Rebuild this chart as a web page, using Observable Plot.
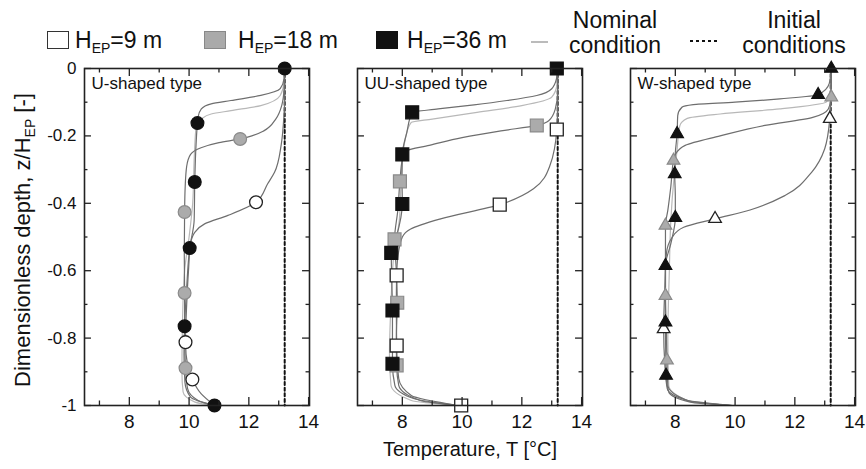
<!DOCTYPE html>
<html><head><meta charset="utf-8">
<script src="https://cdn.jsdelivr.net/npm/d3@7"></script>
<script src="https://cdn.jsdelivr.net/npm/@observablehq/plot@0.6"></script>
<style>
body{margin:0;background:#fff;font-family:"Liberation Sans",Arial,sans-serif;color:#111;}
#wrap{position:relative;width:866px;height:469px;overflow:hidden;}
#chart{position:absolute;left:0;top:0;}
.lg{position:absolute;font-size:23px;line-height:1;white-space:nowrap;color:#111;}
.sub{font-size:14px;position:relative;top:5px;}
.sw{position:absolute;width:22px;height:18px;box-sizing:border-box;border:1.3px solid #333;}
</style>
</head><body>
<div id="wrap">
  <div id="chart"></div>
  <div class="sw" style="left:47px;top:31px;background:#fff;"></div>
  <div class="lg" style="left:75px;top:29px;">H<span class="sub">EP</span>=9 m</div>
  <div class="sw" style="left:204px;top:31px;background:#aaa;border-color:#888;"></div>
  <div class="lg" style="left:238px;top:29px;">H<span class="sub">EP</span>=18 m</div>
  <div class="sw" style="left:376px;top:31px;background:#111;border-color:#111;"></div>
  <div class="lg" style="left:407px;top:29px;">H<span class="sub">EP</span>=36 m</div>
  <div style="position:absolute;left:531px;top:41px;width:17px;height:2px;background:#bbb;"></div>
  <div class="lg" style="left:564px;top:8px;width:102px;text-align:center;line-height:25px;">Nominal<br>condition</div>
  <div style="position:absolute;left:690px;top:40px;width:30px;height:2px;background:repeating-linear-gradient(to right,#111 0 3px,transparent 3px 6px);"></div>
  <div class="lg" style="left:728px;top:8px;width:132px;text-align:center;line-height:25px;">Initial<br>conditions</div>
  <div class="lg" style="left:23px;top:240px;font-size:22px;transform:translate(-50%,-50%) rotate(-90deg);">Dimensionless depth, z/H<span class="sub">EP</span> [-]</div>
</div>
<script>
// ---------- data ----------
const panelTypes = ["U-shaped type", "UU-shaped type", "W-shaped type"];
const seriesNames = ["9 m", "18 m", "36 m"];
const xMajorTicks = [8, 10, 12, 14];
const xMinorTicks = [7, 9, 11, 13];
const yMajorTicks = [0, -0.2, -0.4, -0.6, -0.8, -1];
const yMinorTicks = [-0.1, -0.3, -0.5, -0.7, -0.9];
const initialProfile = [[13.2, 0], [13.2, -1]];

// U-shaped type: [T, z/HEP]
const uNominal = [[13.2,0],[13.18,-0.04],[13.05,-0.08],[12.4,-0.11],[11.4,-0.125],[10.74,-0.135],[10.41,-0.15],[10.24,-0.17],[10.18,-0.25],[10.12,-0.4],[10.0,-0.5],[9.85,-0.6],[9.78,-0.75],[9.76,-0.9],[9.8,-0.96],[10.2,-0.99],[10.85,-1]];
const uH9 = [[13.2,0],[13.2,-0.08],[13.16,-0.16],[13.08,-0.228],[12.86,-0.308],[12.63,-0.342],[12.24,-0.397],[11.3,-0.436],[10.52,-0.461],[10.19,-0.486],[10.05,-0.52],[9.98,-0.6],[9.92,-0.7],[9.88,-0.812],[9.95,-0.88],[10.11,-0.923],[10.4,-0.965],[10.85,-1]];
const uH18 = [[13.2,0],[13.18,-0.06],[13.1,-0.11],[12.9,-0.15],[12.5,-0.185],[12.1,-0.2],[11.71,-0.209],[11.0,-0.22],[10.4,-0.235],[10.05,-0.255],[9.92,-0.29],[9.87,-0.35],[9.85,-0.426],[9.84,-0.55],[9.85,-0.666],[9.85,-0.78],[9.88,-0.889],[9.95,-0.95],[10.3,-0.985],[10.85,-1]];
const uH36 = [[13.2,0],[13.18,-0.03],[13.05,-0.06],[12.4,-0.08],[11.4,-0.095],[10.74,-0.105],[10.41,-0.12],[10.3,-0.144],[10.28,-0.162],[10.22,-0.25],[10.19,-0.337],[10.17,-0.45],[10.02,-0.533],[9.92,-0.65],[9.85,-0.765],[9.83,-0.85],[9.86,-0.93],[10.05,-0.975],[10.85,-1]];
const uMarks9 = [[12.24,-0.397],[9.88,-0.812],[10.11,-0.923]];
const uMarks18 = [[11.71,-0.209],[9.85,-0.426],[9.85,-0.666],[9.88,-0.889]];
const uMarks36 = [[13.2,0],[10.28,-0.162],[10.19,-0.337],[10.02,-0.533],[9.85,-0.765],[10.85,-1]];

// UU-shaped type
const uuNominal = [[13.2,0],[13.17,-0.05],[13.0,-0.085],[12.0,-0.11],[10.5,-0.13],[9.0,-0.15],[8.3,-0.16],[8.12,-0.2],[7.98,-0.3],[7.9,-0.45],[7.72,-0.55],[7.62,-0.7],[7.57,-0.85],[7.62,-0.94],[8.3,-0.985],[9.9,-1]];
const uuH9 = [[13.2,0],[13.2,-0.1],[13.17,-0.181],[12.94,-0.288],[12.39,-0.357],[11.26,-0.404],[9.28,-0.446],[8.28,-0.476],[8.0,-0.5],[7.85,-0.56],[7.81,-0.614],[7.8,-0.7],[7.81,-0.822],[7.88,-0.92],[8.3,-0.97],[9.9,-1]];
const uuH18 = [[13.2,0],[13.2,-0.07],[13.12,-0.12],[12.9,-0.155],[12.5,-0.169],[11.3,-0.185],[10.0,-0.205],[8.9,-0.228],[8.17,-0.243],[8.0,-0.27],[7.92,-0.335],[7.85,-0.42],[7.74,-0.507],[7.8,-0.6],[7.83,-0.695],[7.8,-0.8],[7.81,-0.881],[7.88,-0.94],[8.6,-0.985],[9.9,-1]];
const uuH36 = [[13.2,0],[13.16,-0.03],[13.0,-0.06],[12.5,-0.08],[11.5,-0.095],[10.4,-0.108],[9.2,-0.12],[8.33,-0.13],[8.15,-0.19],[8.0,-0.255],[7.99,-0.33],[8.0,-0.402],[7.8,-0.5],[7.63,-0.547],[7.65,-0.64],[7.67,-0.718],[7.67,-0.8],[7.67,-0.876],[7.75,-0.94],[8.4,-0.98],[9.9,-1]];
const uuMarks9 = [[13.17,-0.181],[11.26,-0.404],[7.81,-0.614],[7.81,-0.822],[9.97,-1]];
const uuMarks18 = [[12.5,-0.169],[7.92,-0.335],[7.74,-0.507],[7.83,-0.695],[7.81,-0.881]];
const uuMarks36 = [[13.17,0],[8.33,-0.13],[8.0,-0.255],[8.0,-0.402],[7.63,-0.547],[7.67,-0.718],[7.67,-0.876]];

// W-shaped type
const wNominal = [[13.22,0],[13.2,-0.07],[13.05,-0.1],[11.5,-0.12],[9.5,-0.135],[8.4,-0.148],[8.15,-0.17],[8.05,-0.25],[7.95,-0.33],[7.85,-0.45],[7.8,-0.6],[7.75,-0.8],[7.78,-0.94],[8.5,-0.988],[9.9,-1]];
const wH9 = [[13.22,0],[13.2,-0.1],[13.17,-0.149],[13.0,-0.238],[12.56,-0.308],[11.67,-0.377],[10.5,-0.42],[9.33,-0.446],[8.28,-0.471],[7.9,-0.5],[7.7,-0.55],[7.65,-0.65],[7.61,-0.773],[7.65,-0.88],[7.73,-0.95],[8.4,-0.985],[9.9,-1]];
const wH18 = [[13.22,0],[13.22,-0.085],[13.12,-0.12],[12.6,-0.145],[11.0,-0.169],[9.5,-0.2],[8.33,-0.228],[8.0,-0.255],[7.94,-0.273],[7.85,-0.35],[7.75,-0.42],[7.67,-0.466],[7.67,-0.55],[7.67,-0.674],[7.7,-0.78],[7.72,-0.866],[7.75,-0.94],[8.4,-0.985],[9.9,-1]];
const wH36 = [[13.22,0],[13.15,-0.045],[12.78,-0.078],[11.5,-0.09],[10.0,-0.1],[8.6,-0.107],[8.22,-0.115],[8.08,-0.14],[8.06,-0.194],[8.0,-0.25],[7.98,-0.313],[8.0,-0.38],[8.0,-0.443],[7.85,-0.52],[7.67,-0.585],[7.67,-0.68],[7.67,-0.753],[7.68,-0.85],[7.69,-0.911],[7.78,-0.96],[8.5,-0.99],[9.9,-1]];
const wMarks9 = [[13.17,-0.149],[9.33,-0.446],[7.61,-0.773]];
const wMarks18 = [[13.22,-0.085],[7.94,-0.273],[7.67,-0.466],[7.67,-0.674],[7.72,-0.866]];
const wMarks36 = [[13.22,0],[12.78,-0.078],[8.06,-0.194],[7.98,-0.313],[8.0,-0.443],[7.67,-0.585],[7.67,-0.753],[7.69,-0.911]];

// ---------- tables ----------
const nominalCurves = [uNominal, uuNominal, wNominal];
const seriesCurves = [[uH9, uH18, uH36], [uuH9, uuH18, uuH36], [wH9, wH18, wH36]];
const seriesMarks = [[uMarks9, uMarks18, uMarks36], [uuMarks9, uuMarks18, uuMarks36], [wMarks9, wMarks18, wMarks36]];

const toRows = (pts, type, key) => pts.map(([T, z]) => ({type, key, T, z}));
const nominalRows = nominalCurves.flatMap((c, p) => toRows(c, panelTypes[p], panelTypes[p] + "-nom"));
const seriesRows = seriesCurves.flatMap((cs, p) => cs.flatMap((c, s) => toRows(c, panelTypes[p], panelTypes[p] + seriesNames[s])));

const W = 866, H = 469, mL = 83, mR = 9, mT = 68, mB = 64;
const padIn = 0.175;
const innerH = H - mT - mB;
const bw = (W - mL - mR) / (panelTypes.length - padIn) * (1 - padIn);
const major = 8, minor = 4.5;
const tickStyle = {stroke: "#222", strokeWidth: 1.3};

const symbols = ["circle", "square", "triangle"];
const radii = [6.4, 7.3, 4.7];
const markStyles = [
  {fill: "#fff", stroke: "#222", strokeWidth: 1.3},
  {fill: "#ababab", stroke: "#8a8a8a", strokeWidth: 1.2},
  {fill: "#111", stroke: "#111", strokeWidth: 1.2}
];
const dotMarks = [];
for (let s = 0; s < seriesNames.length; s++) {
  for (let p = 0; p < panelTypes.length; p++) {
    dotMarks.push(Plot.dot(toRows(seriesMarks[p][s], panelTypes[p], seriesNames[s]), {
      x: "T", y: "z", fx: "type", symbol: symbols[p], r: radii[p], ...markStyles[s]
    }));
  }
}

const fmt = d => d === 0 ? "0" : d === -1 ? "-1" : d.toFixed(1);

const chart = Plot.plot({
  width: W, height: H,
  marginLeft: mL, marginRight: mR, marginTop: mT, marginBottom: mB,
  style: {fontFamily: "'Liberation Sans', Arial, sans-serif", color: "#111", background: "transparent"},
  fx: {domain: panelTypes, paddingInner: padIn, paddingOuter: 0, axis: null, label: null},
  x: {domain: [6.5, 14.03], label: null},
  y: {domain: [-1, 0], label: null},
  marks: [
    Plot.line(initialProfile, {x: d => d[0], y: d => d[1], stroke: "#111", strokeWidth: 2, strokeDasharray: "3,2.6"}),
    Plot.line(nominalRows, {x: "T", y: "z", z: "key", fx: "type", stroke: "#b8b8b8", strokeWidth: 1.2, curve: "monotone-y"}),
    Plot.line(seriesRows, {x: "T", y: "z", z: "key", fx: "type", stroke: "#6e6e6e", strokeWidth: 1.2, curve: "monotone-y"}),
    ...dotMarks,
    Plot.tickX(xMajorTicks, {x: d => d, insetTop: innerH - major, ...tickStyle}),
    Plot.tickX(xMajorTicks, {x: d => d, insetBottom: innerH - major, ...tickStyle}),
    Plot.tickX(xMinorTicks, {x: d => d, insetTop: innerH - minor, ...tickStyle}),
    Plot.tickX(xMinorTicks, {x: d => d, insetBottom: innerH - minor, ...tickStyle}),
    Plot.tickY(yMajorTicks, {y: d => d, insetRight: bw - major, ...tickStyle}),
    Plot.tickY(yMajorTicks, {y: d => d, insetLeft: bw - major, ...tickStyle}),
    Plot.tickY(yMinorTicks, {y: d => d, insetRight: bw - minor, ...tickStyle}),
    Plot.tickY(yMinorTicks, {y: d => d, insetLeft: bw - minor, ...tickStyle}),
    Plot.frame({stroke: "#222", strokeWidth: 1.6}),
    Plot.axisX(xMajorTicks, {tickSize: 0, tickPadding: 9, fontSize: 19, label: null}),
    Plot.axisY(yMajorTicks, {tickSize: 0, tickPadding: 8, fontSize: 17, tickFormat: fmt, label: null}),
    Plot.text(panelTypes, {fx: d => d, text: d => d, frameAnchor: "top-left", dx: 7, dy: 8, fontSize: 17, fill: "#111"}),
    Plot.text(["Temperature, T [°C]"], {fx: () => panelTypes[1], text: d => d, frameAnchor: "bottom", dy: 50, fontSize: 20, fill: "#111"})
  ]
});
document.getElementById("chart").append(chart);
</script>
</body></html>
